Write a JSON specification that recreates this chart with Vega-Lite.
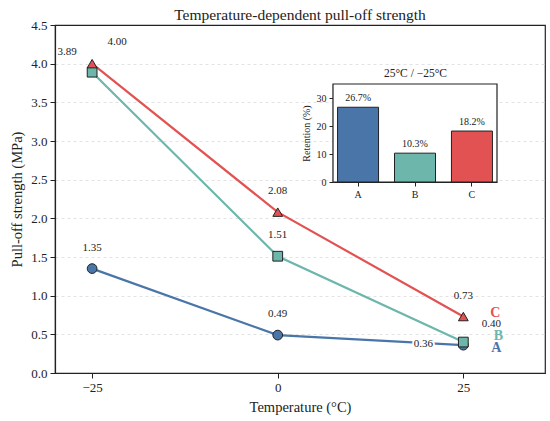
{
  "$schema": "https://vega.github.io/schema/vega-lite/v6.json",
  "width": 490,
  "height": 348,
  "autosize": {"type": "none"},
  "padding": {"left": 55, "top": 25, "right": 5, "bottom": 48},
  "title": {"text": "Temperature-dependent pull-off strength", "fontSize": 15.5, "fontWeight": "normal", "offset": -4, "anchor": "middle", "color": "#222"},
  "datasets": {
    "pull": [
      {"series": "A", "temp": -25, "value": 1.35},
      {"series": "A", "temp": 0, "value": 0.49},
      {"series": "A", "temp": 25, "value": 0.36},
      {"series": "B", "temp": -25, "value": 3.89},
      {"series": "B", "temp": 0, "value": 1.51},
      {"series": "B", "temp": 25, "value": 0.40},
      {"series": "C", "temp": -25, "value": 4.00},
      {"series": "C", "temp": 0, "value": 2.08},
      {"series": "C", "temp": 25, "value": 0.73}
    ],
    "ret": [
      {"sample": "A", "retention": 26.7},
      {"sample": "B", "retention": 10.3},
      {"sample": "C", "retention": 18.2}
    ]
  },
  "layer": [
    {
      "data": {"name": "pull"},
      "encoding": {
        "x": {"field": "temp", "type": "quantitative",
          "scale": {"domain": [-30, 36], "nice": false, "zero": false},
          "axis": {"orient": "bottom", "values": [-25, 0, 25], "grid": false, "title": "Temperature (°C)", "titlePadding": 6,
            "labelExpr": "datum.value < 0 ? '−' + abs(datum.value) : datum.label"}},
        "y": {"field": "value", "type": "quantitative",
          "scale": {"domain": [0, 4.5], "nice": false},
          "axis": {"orient": "left", "values": [0, 0.5, 1, 1.5, 2, 2.5, 3, 3.5, 4, 4.5], "format": ".1f", "title": "Pull-off strength (MPa)",
            "grid": true, "gridDash": [3, 3], "gridColor": "#e2e2e2", "titlePadding": 6,
            "gridOpacity": {"condition": {"test": "datum.value == 0 || datum.value == 4.5", "value": 0}, "value": 1}}},
        "color": {"field": "series", "type": "nominal",
          "scale": {"domain": ["A", "B", "C"], "range": ["#4a75a8", "#6db6ac", "#e35252"]}, "legend": null}
      },
      "layer": [
        {"mark": {"type": "line", "strokeWidth": 2.2}},
        {"mark": {"type": "point", "filled": true, "opacity": 1, "stroke": "#222", "strokeWidth": 1, "size": 95},
          "encoding": {"shape": {"field": "series", "type": "nominal",
            "scale": {"domain": ["A", "B", "C"], "range": ["circle", "square", "triangle-up"]}, "legend": null}}},
        {"transform": [{"filter": "!((datum.series=='A'&&datum.temp==25)||(datum.series=='B'&&datum.temp==-25)||(datum.series=='C'&&datum.temp==-25)||(datum.series=='B'&&datum.temp==25))"}],
          "mark": {"type": "text", "dy": -21, "baseline": "middle", "fontSize": 11, "color": "#222"},
          "encoding": {"text": {"field": "value", "format": ".2f"}, "color": {"value": "#222"}}},
        {"transform": [{"filter": "datum.series=='B'&&datum.temp==-25"}],
          "mark": {"type": "text", "dx": -25, "dy": -20, "baseline": "middle", "fontSize": 11},
          "encoding": {"text": {"field": "value", "format": ".2f"}, "color": {"value": "#222"}}},
        {"transform": [{"filter": "datum.series=='C'&&datum.temp==-25"}],
          "mark": {"type": "text", "dx": 25, "dy": -22, "baseline": "middle", "fontSize": 11},
          "encoding": {"text": {"field": "value", "format": ".2f"}, "color": {"value": "#222"}}},
        {"transform": [{"filter": "datum.series=='B'&&datum.temp==25"}],
          "mark": {"type": "text", "dx": 28, "dy": -18, "baseline": "middle", "fontSize": 11},
          "encoding": {"text": {"field": "value", "format": ".2f"}, "color": {"value": "#222"}}},
        {"transform": [{"filter": "datum.series=='A'&&datum.temp==25"}],
          "mark": {"type": "text", "dx": -40, "dy": -1, "baseline": "middle", "fontSize": 11, "stroke": "white", "strokeWidth": 4},
          "encoding": {"text": {"field": "value", "format": ".2f"}, "color": {"value": "white"}}},
        {"transform": [{"filter": "datum.series=='A'&&datum.temp==25"}],
          "mark": {"type": "text", "dx": -40, "dy": -1, "baseline": "middle", "fontSize": 11},
          "encoding": {"text": {"field": "value", "format": ".2f"}, "color": {"value": "#222"}}},
        {"transform": [{"filter": "datum.series=='C'&&datum.temp==25"}],
          "mark": {"type": "text", "dx": 32, "dy": -4, "baseline": "middle", "fontSize": 14, "fontWeight": "bold"},
          "encoding": {"text": {"field": "series"}}},
        {"transform": [{"filter": "datum.series=='B'&&datum.temp==25"}],
          "mark": {"type": "text", "dx": 35, "dy": -6, "baseline": "middle", "fontSize": 14, "fontWeight": "bold"},
          "encoding": {"text": {"field": "series"}}},
        {"transform": [{"filter": "datum.series=='A'&&datum.temp==25"}],
          "mark": {"type": "text", "dx": 33, "dy": 3, "baseline": "middle", "fontSize": 14, "fontWeight": "bold"},
          "encoding": {"text": {"field": "series"}}}
      ]
    },
    {
      "data": {"values": [{"panel": "inset"}]},
      "mark": {"type": "rect", "fill": "white", "stroke": "#222", "strokeWidth": 1.2},
      "encoding": {
        "x": {"datum": 0, "type": "quantitative",
          "scale": {"domain": [0, 1], "range": [278, 442], "nice": false, "zero": false},
          "axis": {"orient": "top", "offset": -59, "title": "25°C / −25°C", "labels": false, "ticks": false, "domain": false, "grid": false, "titleFontSize": 11.5, "titlePadding": 6}},
        "x2": {"datum": 1},
        "y": {"datum": 0, "type": "quantitative",
          "scale": {"domain": [0, 35], "range": [157, 59], "nice": false}, "axis": null},
        "y2": {"datum": 35}
      }
    },
    {
      "data": {"name": "ret"},
      "transform": [{"calculate": "format(datum.retention, '.1f') + '%'", "as": "lbl"}],
      "encoding": {
        "x": {"field": "sample", "type": "nominal",
          "scale": {"domain": ["A", "B", "C"], "range": [278, 442], "paddingInner": 0.28, "paddingOuter": 0.08},
          "axis": {"orient": "bottom", "offset": -191, "title": null, "labelAngle": 0, "tickSize": 4, "labelFontSize": 10, "grid": false}},
        "y": {"field": "retention", "type": "quantitative",
          "scale": {"domain": [0, 35], "range": [157, 59], "nice": false},
          "axis": {"orient": "left", "offset": -278, "values": [0, 10, 20, 30], "title": "Retention (%)", "grid": false, "labelFontSize": 10, "titleFontSize": 10, "tickSize": 4, "titlePadding": 5}}
      },
      "layer": [
        {"mark": {"type": "bar", "stroke": "#222", "strokeWidth": 1},
          "encoding": {"color": {"field": "sample", "type": "nominal",
            "scale": {"domain": ["A", "B", "C"], "range": ["#4a75a8", "#6db6ac", "#e35252"]}, "legend": null}}},
        {"mark": {"type": "text", "dy": -9, "baseline": "middle", "fontSize": 10, "color": "#222"},
          "encoding": {"text": {"field": "lbl"}}}
      ]
    }
  ],
  "resolve": {"scale": {"x": "independent", "y": "independent"}},
  "config": {
    "font": "Liberation Serif",
    "view": {"stroke": "#222", "strokeWidth": 1.2},
    "axis": {"labelFont": "Liberation Serif", "titleFont": "Liberation Serif", "labelFontSize": 13, "titleFontSize": 14.5,
      "titleFontWeight": "normal", "labelColor": "#222", "titleColor": "#222", "domainColor": "#222", "tickColor": "#222",
      "domainWidth": 1.2, "tickSize": 5, "labelPadding": 3},
    "text": {"font": "Liberation Serif"},
    "title": {"font": "Liberation Serif"}
  }
}
